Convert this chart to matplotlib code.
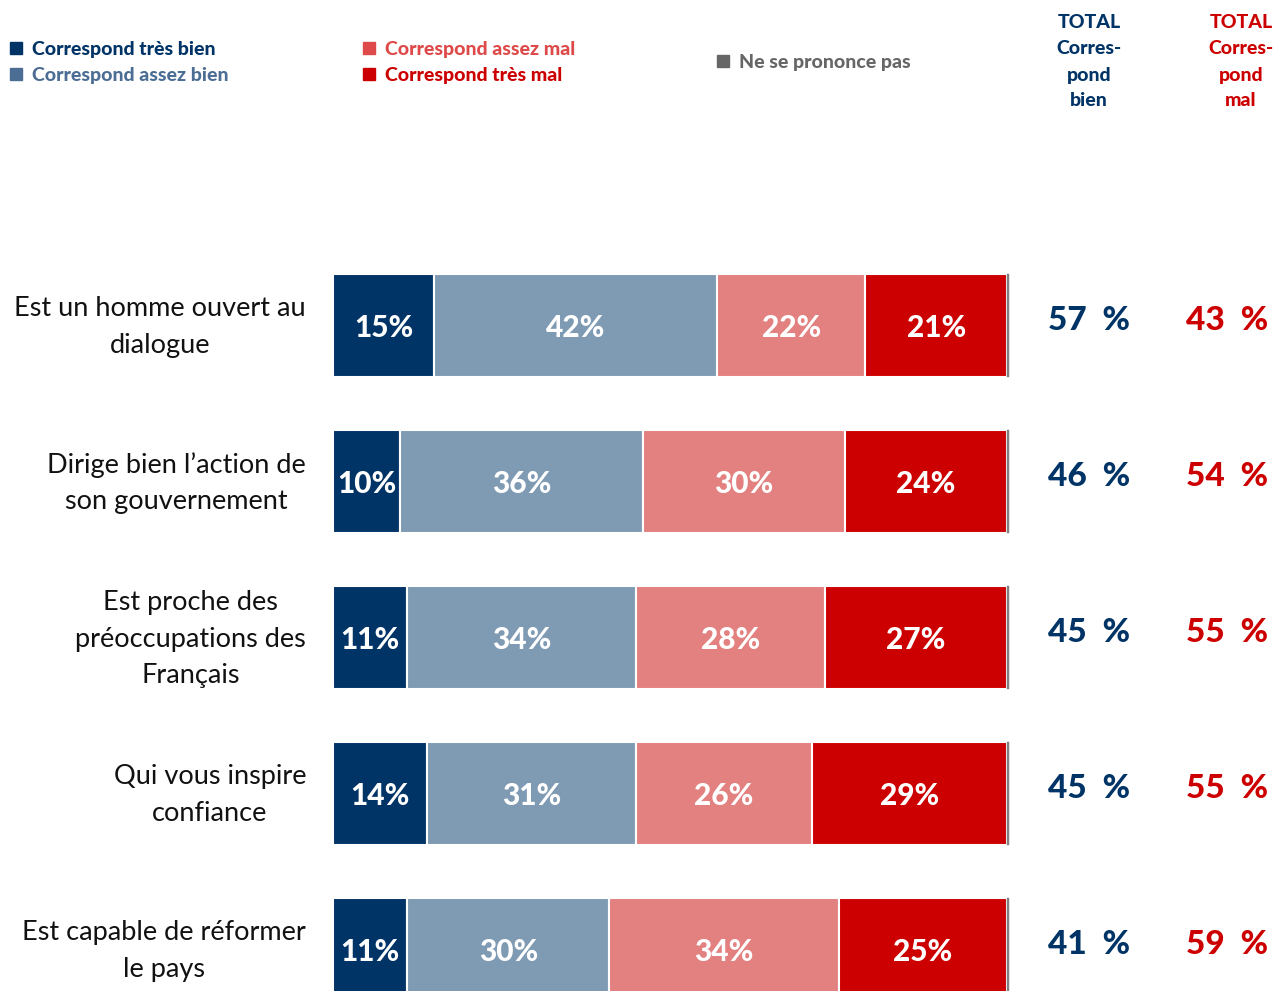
import matplotlib
matplotlib.use("Agg")
import matplotlib.pyplot as plt

plt.rcParams['font.family'] = ['Lato', 'DejaVu Sans']

categories = [
    "Est un homme ouvert au\ndialogue",
    "Dirige bien l\u2019action de\nson gouvernement",
    "Est proche des\npr\u00e9occupations des\nFran\u00e7ais",
    "Qui vous inspire\nconfiance",
    "Est capable de r\u00e9former\nle pays",
]
tres_bien = [15, 10, 11, 14, 11]
assez_bien = [42, 36, 34, 31, 30]
assez_mal = [22, 30, 28, 26, 34]
tres_mal = [21, 24, 27, 29, 25]
nsp = [0.3, 0.3, 0.3, 0.3, 0.3]
total_bien = [57, 46, 45, 45, 41]
total_mal = [43, 54, 55, 55, 59]

series_names = ["Correspond tr\u00e8s bien", "Correspond assez bien",
                "Correspond assez mal", "Correspond tr\u00e8s mal", "Ne se prononce pas"]

C_NAVY = "#003366"
C_LBLUE = "#7F9AB3"
C_PINK = "#E38080"
C_RED = "#CC0000"
C_GRAY = "#808080"
C_LEG_BLUE2 = "#4D6E94"
C_LEG_PINK = "#DE4A4A"
C_LEG_GRAY = "#666666"

W, H = 1274, 991
fig = plt.figure(figsize=(W / 100, H / 100), dpi=100)

x0_px, x1_px = 333, 1007
ax = fig.add_axes([x0_px / W, 0, (x1_px - x0_px) / W, 1])
row_px0, row_step = 325, 156
ax.set_xlim(0, 100)
ax.set_ylim((H - row_px0) / row_step, -row_px0 / row_step)
ax.axis("off")

series = [tres_bien, assez_bien, assez_mal, tres_mal, nsp]
colors = [C_NAVY, C_LBLUE, C_PINK, C_RED, C_GRAY]
ypos = list(range(len(categories)))
bar_h = 103 / row_step
lbl_dy = 3 / row_step

left = [0] * len(categories)
for k, (vals, col) in enumerate(zip(series, colors)):
    ax.barh(ypos, vals, left=left, height=bar_h, color=col,
            edgecolor="white" if k < 4 else col,
            linewidth=1.5 if k < 4 else 0.3, clip_on=False)
    if k < 4:
        for i, v in enumerate(vals):
            ax.text(left[i] + v / 2, ypos[i] + lbl_dy, f"{v}%", ha="center",
                    va="center", color="white", fontsize=21.5,
                    fontweight="black", clip_on=False)
    left = [l + v for l, v in zip(left, vals)]

# category labels
for i, c in enumerate(categories):
    fig.text(306 / W, 1 - (row_px0 + row_step * i + 2) / H, c, ha="right",
             va="center", multialignment="center", fontsize=19.5,
             linespacing=1.58, color="#111111")

# totals
for i in range(len(categories)):
    yf = 1 - (row_px0 + row_step * i - 5) / H
    fig.text(1089 / W, yf, f"{total_bien[i]}  %", ha="center", va="center",
             fontsize=24, fontweight="black", color=C_NAVY)
    fig.text(1227 / W, yf, f"{total_mal[i]}  %", ha="center", va="center",
             fontsize=24, fontweight="black", color=C_RED)

# column headers
for xc, lines, col in [(1089, ["TOTAL", "Corres-", "pond", "bien"], C_NAVY),
                       (1241, ["TOTAL", "Corres-", "pond", "mal"], C_RED)]:
    for j, t in enumerate(lines):
        fig.text(xc / W, 1 - (23 + 26 * j) / H, t, ha="center", va="center",
                 fontsize=14, fontweight="black", color=col)

# legend
legend_items = [
    (10, 48, series_names[0], C_NAVY, C_NAVY),
    (10, 74, series_names[1], C_LEG_BLUE2, C_LEG_BLUE2),
    (363, 48, series_names[2], C_LEG_PINK, C_LEG_PINK),
    (363, 74, series_names[3], C_RED, C_RED),
    (717, 61, series_names[4], C_LEG_GRAY, C_LEG_GRAY),
]
for xp, yp, t, sc, tc in legend_items:
    fig.patches.append(plt.Rectangle((xp / W, 1 - (yp + 6) / H), 12 / W, 12 / H,
                                     transform=fig.transFigure, color=sc))
    fig.text((xp + 22) / W, 1 - (yp + 1.5) / H, t, ha="left", va="center",
             fontsize=14, fontweight="black", color=tc)

fig.savefig("out.png", dpi=100)
